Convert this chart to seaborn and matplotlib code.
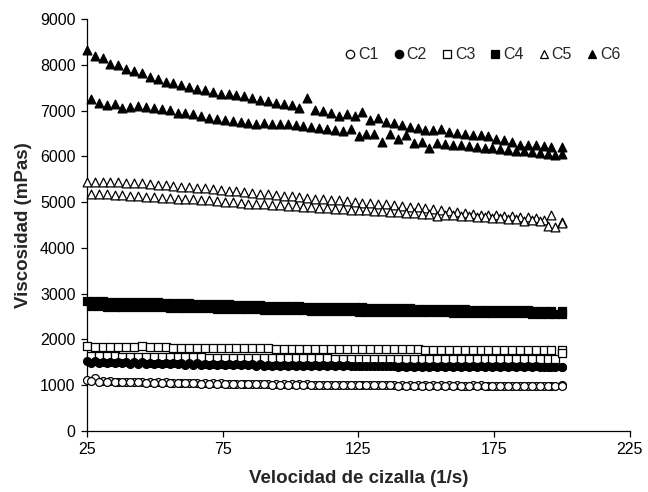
import numpy as np
import pandas as pd
import seaborn as sns
import matplotlib.pyplot as plt
from matplotlib.lines import Line2D

# shear rates of the two runs of each sample (1/s)
shear_a = [25.0, 27.9, 30.8, 33.7, 36.6, 39.5, 42.4, 45.3, 48.2, 51.1,
           54.0, 56.9, 59.8, 62.7, 65.6, 68.5, 71.4, 74.3, 77.2, 80.1,
           83.0, 85.9, 88.8, 91.7, 94.6, 97.5, 100.4, 103.3, 106.2, 109.1,
           112.0, 114.9, 117.8, 120.7, 123.6, 126.5, 129.4, 132.3, 135.2, 138.1,
           141.0, 143.9, 146.8, 149.7, 152.6, 155.5, 158.4, 161.3, 164.2, 167.1,
           170.0, 172.9, 175.8, 178.7, 181.6, 184.5, 187.4, 190.3, 193.2, 196.1,
           200.0]
shear_b = [26.5, 29.4, 32.3, 35.2, 38.1, 41.0, 43.9, 46.8, 49.7, 52.6,
           55.5, 58.4, 61.3, 64.2, 67.1, 70.0, 72.9, 75.8, 78.7, 81.6,
           84.5, 87.4, 90.3, 93.2, 96.1, 99.0, 101.9, 104.8, 107.7, 110.6,
           113.5, 116.4, 119.3, 122.2, 125.1, 128.0, 130.9, 133.8, 136.7, 139.6,
           142.5, 145.4, 148.3, 151.2, 154.1, 157.0, 159.9, 162.8, 165.7, 168.6,
           171.5, 174.4, 177.3, 180.2, 183.1, 186.0, 188.9, 191.8, 194.7, 197.6,
           200.0]

# viscosity (mPas), run a and run b for each sample
c1_a = [1110, 1150, 1100, 1090, 1080, 1080, 1070, 1070, 1060, 1060,
        1060, 1050, 1050, 1050, 1040, 1040, 1040, 1040, 1030, 1030,
        1030, 1030, 1030, 1020, 1020, 1020, 1020, 1020, 1020, 1010,
        1010, 1010, 1010, 1010, 1010, 1010, 1010, 1000, 1010, 1000,
        1000, 1000, 1000, 1000, 1000, 1000, 1000, 1000, 990, 1000,
        1000, 990, 990, 990, 990, 990, 990, 990, 990, 990,
        1000]
c1_b = [1090, 1080, 1080, 1070, 1070, 1060, 1060, 1050, 1050, 1050,
        1040, 1040, 1040, 1040, 1030, 1030, 1030, 1030, 1020, 1020,
        1020, 1020, 1020, 1010, 1010, 1010, 1010, 1010, 1010, 1000,
        1000, 1000, 1000, 1000, 1000, 1000, 1000, 1000, 1000, 990,
        990, 990, 990, 990, 990, 990, 990, 990, 990, 990,
        990, 990, 980, 980, 980, 980, 980, 980, 980, 980,
        990]
c2_a = [1520, 1520, 1510, 1510, 1510, 1500, 1500, 1500, 1490, 1490,
        1490, 1480, 1480, 1480, 1480, 1470, 1470, 1470, 1470, 1460,
        1460, 1460, 1460, 1450, 1450, 1450, 1450, 1450, 1440, 1440,
        1440, 1440, 1440, 1440, 1430, 1430, 1430, 1430, 1430, 1430,
        1430, 1420, 1420, 1420, 1420, 1420, 1420, 1420, 1420, 1410,
        1410, 1410, 1410, 1410, 1410, 1410, 1410, 1410, 1400, 1400,
        1400]
c2_b = [1490, 1490, 1480, 1480, 1480, 1470, 1470, 1470, 1460, 1460,
        1460, 1460, 1450, 1450, 1450, 1450, 1440, 1440, 1440, 1440,
        1440, 1430, 1430, 1430, 1430, 1430, 1420, 1420, 1420, 1420,
        1420, 1420, 1410, 1410, 1410, 1410, 1410, 1410, 1410, 1400,
        1400, 1400, 1400, 1400, 1400, 1400, 1400, 1390, 1390, 1390,
        1390, 1390, 1390, 1390, 1390, 1390, 1390, 1390, 1390, 1390,
        1390]
c3_a = [1850, 1840, 1840, 1840, 1840, 1830, 1830, 1860, 1830, 1830,
        1830, 1820, 1820, 1820, 1820, 1820, 1820, 1810, 1810, 1810,
        1810, 1810, 1810, 1810, 1800, 1800, 1800, 1800, 1800, 1800,
        1800, 1800, 1800, 1790, 1790, 1790, 1790, 1790, 1790, 1790,
        1790, 1790, 1790, 1780, 1780, 1780, 1780, 1780, 1780, 1780,
        1780, 1780, 1780, 1780, 1780, 1780, 1780, 1770, 1770, 1770,
        1770]
c3_b = [1640, 1630, 1630, 1630, 1620, 1620, 1620, 1620, 1620, 1610,
        1610, 1610, 1610, 1610, 1610, 1600, 1600, 1600, 1600, 1600,
        1600, 1600, 1590, 1590, 1590, 1590, 1590, 1590, 1590, 1590,
        1590, 1580, 1580, 1580, 1580, 1580, 1580, 1580, 1580, 1580,
        1580, 1580, 1580, 1570, 1570, 1570, 1570, 1570, 1570, 1570,
        1570, 1570, 1570, 1570, 1570, 1570, 1570, 1570, 1570, 1570,
        1700]
c4_a = [2850, 2840, 2840, 2830, 2830, 2830, 2820, 2820, 2810, 2810,
        2800, 2800, 2790, 2790, 2780, 2780, 2780, 2770, 2770, 2760,
        2760, 2750, 2750, 2740, 2740, 2740, 2730, 2730, 2720, 2720,
        2710, 2710, 2710, 2700, 2700, 2700, 2690, 2690, 2690, 2680,
        2680, 2680, 2670, 2670, 2670, 2660, 2660, 2660, 2660, 2650,
        2650, 2650, 2650, 2640, 2640, 2640, 2640, 2630, 2630, 2630,
        2630]
c4_b = [2730, 2730, 2720, 2720, 2720, 2710, 2710, 2700, 2700, 2700,
        2690, 2690, 2690, 2680, 2680, 2680, 2670, 2670, 2670, 2660,
        2660, 2660, 2650, 2650, 2650, 2640, 2640, 2640, 2630, 2630,
        2630, 2620, 2620, 2620, 2610, 2610, 2610, 2610, 2600, 2600,
        2600, 2600, 2590, 2590, 2590, 2590, 2580, 2580, 2580, 2580,
        2580, 2570, 2570, 2570, 2570, 2570, 2560, 2560, 2560, 2560,
        2560]
c5_a = [5450, 5440, 5450, 5440, 5440, 5430, 5420, 5410, 5400, 5380,
        5370, 5360, 5340, 5330, 5310, 5300, 5280, 5270, 5250, 5240,
        5220, 5210, 5190, 5180, 5160, 5140, 5130, 5110, 5100, 5080,
        5070, 5050, 5040, 5020, 5010, 4990, 4980, 4960, 4950, 4930,
        4920, 4900, 4890, 4870, 4850, 4820, 4800, 4780, 4760, 4750,
        4730, 4720, 4710, 4700, 4690, 4680, 4670, 4660, 4620, 4720,
        4570]
c5_b = [5180, 5170, 5170, 5160, 5150, 5140, 5130, 5120, 5110, 5100,
        5090, 5080, 5070, 5060, 5050, 5040, 5020, 5010, 5000, 4990,
        4970, 4960, 4950, 4940, 4930, 4920, 4910, 4900, 4890, 4880,
        4870, 4860, 4850, 4840, 4830, 4820, 4810, 4800, 4790, 4780,
        4770, 4760, 4750, 4740, 4700, 4730, 4710, 4700, 4690, 4680,
        4670, 4660, 4650, 4640, 4630, 4600, 4620, 4580, 4480, 4450,
        4540]
c6_a = [8320, 8200, 8150, 8030, 8000, 7920, 7860, 7830, 7740, 7700,
        7630, 7600, 7560, 7520, 7480, 7450, 7400, 7360, 7360, 7340,
        7320, 7280, 7230, 7210, 7170, 7140, 7120, 7050, 7270, 7020,
        6990, 6940, 6880, 6920, 6890, 6970, 6790, 6830, 6760, 6740,
        6690, 6640, 6630, 6580, 6570, 6610, 6540, 6520, 6500, 6470,
        6460, 6440, 6390, 6370, 6320, 6250, 6250, 6240, 6220, 6210,
        6200]
c6_b = [7250, 7160, 7120, 7140, 7060, 7080, 7110, 7070, 7060, 7030,
        7010, 6960, 6940, 6920, 6890, 6850, 6820, 6790, 6770, 6760,
        6740, 6720, 6735, 6720, 6710, 6705, 6685, 6660, 6650, 6630,
        6590, 6575, 6550, 6610, 6445, 6480, 6500, 6320, 6490, 6390,
        6465, 6300, 6320, 6175, 6290, 6280, 6260, 6240, 6225, 6210,
        6190, 6175, 6160, 6145, 6130, 6110, 6095, 6080, 6060, 6040,
        6050]

samples = ["C1", "C2", "C3", "C4", "C5", "C6"]
runs = {"C1": (c1_a, c1_b), "C2": (c2_a, c2_b), "C3": (c3_a, c3_b),
        "C4": (c4_a, c4_b), "C5": (c5_a, c5_b), "C6": (c6_a, c6_b)}
# marker, face colour, marker area
styles = {"C1": ("o", "white", 32), "C2": ("o", "black", 32),
          "C3": ("s", "white", 32), "C4": ("s", "black", 32),
          "C5": ("^", "white", 40), "C6": ("^", "black", 40)}

sns.set_style("white")
plt.rcParams["font.family"] = ["Liberation Sans", "DejaVu Sans"]

fig = plt.figure(figsize=(6.48, 4.92), dpi=100)
ax = fig.add_axes([0.134, 0.124, 0.838, 0.837])

# draw from C6 down so the lower curves sit on top (as in the original)
for name in samples[::-1]:
    marker, face, size = styles[name]
    for shear, visc in zip((shear_a, shear_b), runs[name]):
        df = pd.DataFrame({"shear": shear[:len(visc)], "visc": visc})
        sns.scatterplot(data=df, x="shear", y="visc", marker=marker, s=size,
                        color=face, edgecolor="black", linewidth=0.9,
                        clip_on=False, legend=False, ax=ax, zorder=3)

ax.set_xlim(25, 225)
ax.set_ylim(0, 9000)
ax.set_xticks([25, 75, 125, 175, 225])
ax.set_yticks(np.arange(0, 9001, 1000))
ax.tick_params(axis="both", direction="out", length=4, width=0.9,
               labelsize=11.5, color="black", labelcolor="black",
               bottom=True, left=True, pad=4)
for side in ["top", "right"]:
    ax.spines[side].set_visible(False)
for side in ["left", "bottom"]:
    ax.spines[side].set_color("black")
    ax.spines[side].set_linewidth(0.9)

ax.set_xlabel("Velocidad de cizalla (1/s)", fontsize=13.5, fontweight="bold", labelpad=9)
ax.set_ylabel("Viscosidad (mPas)", fontsize=13.5, fontweight="bold", labelpad=6)

handles = []
for name in samples:
    marker, face, size = styles[name]
    handles.append(Line2D([], [], linestyle="none", marker=marker, markersize=6,
                          markerfacecolor=face, markeredgecolor="black",
                          markeredgewidth=0.9, label=name))
ax.legend(handles=handles, loc="upper right", bbox_to_anchor=(1.0, 0.955), ncol=6,
          frameon=False, fontsize=11.5, handlelength=0.7, handletextpad=0.15,
          columnspacing=0.9, borderaxespad=0.2)

fig.savefig("out.png", dpi=100)
